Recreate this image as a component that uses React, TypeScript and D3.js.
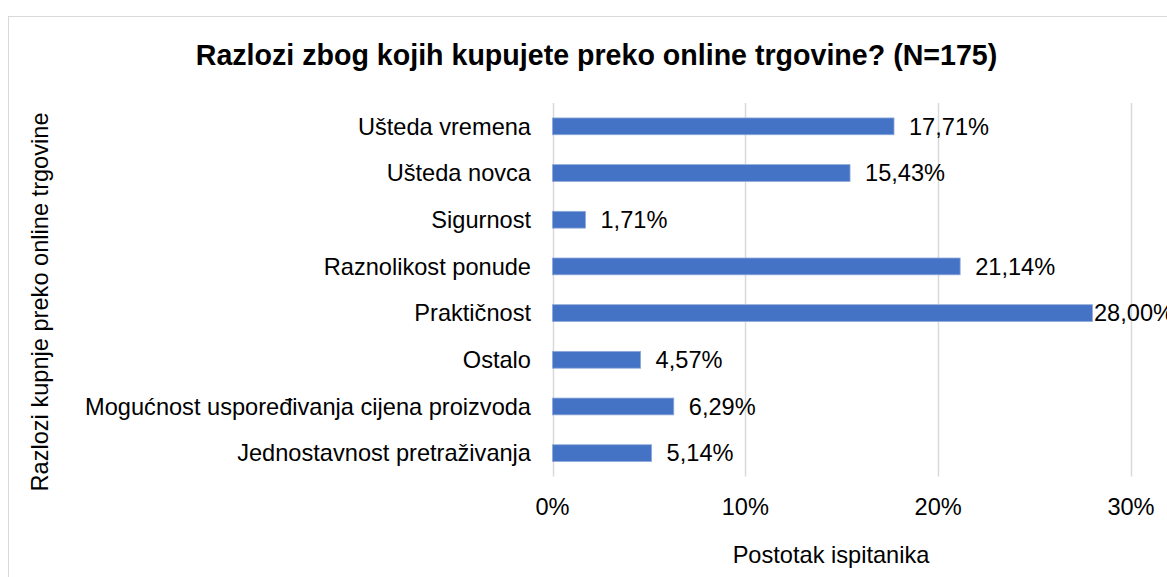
import React from "react";
import * as d3 from "d3";

const categories = [
  "Ušteda vremena",
  "Ušteda novca",
  "Sigurnost",
  "Raznolikost ponude",
  "Praktičnost",
  "Ostalo",
  "Mogućnost uspoređivanja cijena proizvoda",
  "Jednostavnost pretraživanja",
];
const values = [17.71, 15.43, 1.71, 21.14, 28.0, 4.57, 6.29, 5.14];
const ticks = [0, 10, 20, 30];

const title = "Razlozi zbog kojih kupujete preko online trgovine? (N=175)";
const xTitle = "Postotak ispitanika";
const yTitle = "Razlozi kupnje preko online trgovine";

const W = 1167;
const H = 577;
const font = "'Liberation Sans', Arial, sans-serif";
const fs = 23.6;

export default function App() {
  const x = d3.scaleLinear().domain([0, 30]).range([552.5, 1131]);
  const y = d3
    .scaleBand<string>()
    .domain(categories)
    .range([103, 476.5])
    .paddingInner(0.64)
    .paddingOuter(0.32);
  const fmt = (v: number) => v.toFixed(2).replace(".", ",") + "%";

  return (
    <svg
      width={W}
      height={H}
      style={{ position: "absolute", left: 0, top: 0, background: "#fff" }}
    >
      <rect x={8.5} y={16.5} width={1200} height={600} fill="#fff" stroke="#d9d9d9" strokeWidth={1} />
      <text
        x={596.5}
        y={65}
        textAnchor="middle"
        fontFamily={font}
        fontWeight="bold"
        fontSize={28.6}
        fill="#000"
      >
        {title}
      </text>
      {ticks.map((t) => (
        <line
          key={"g" + t}
          x1={Math.round(x(t)) + 0.5}
          x2={Math.round(x(t)) + 0.5}
          y1={103}
          y2={476.5}
          stroke="#d9d9d9"
          strokeWidth={1.5}
        />
      ))}
      {categories.map((c, i) => {
        const yy = y(c)!;
        const bw = y.bandwidth();
        const xe = x(values[i]);
        const lx = Math.min(xe + 15, x(30) - 37);
        return (
          <g key={c}>
            <rect
              x={x(0)}
              y={yy}
              width={xe - x(0)}
              height={bw}
              fill="#4472C4"
              stroke="#8faadc"
              strokeWidth={0.8}
            />
            <text
              x={531}
              y={yy + bw / 2}
              dy="0.35em"
              textAnchor="end"
              fontFamily={font}
              fontSize={fs}
              fill="#000"
            >
              {c}
            </text>
            <text
              x={lx}
              y={yy + bw / 2}
              dy="0.35em"
              fontFamily={font}
              fontSize={fs}
              fill="#000"
            >
              {fmt(values[i])}
            </text>
          </g>
        );
      })}
      {ticks.map((t) => (
        <text
          key={"t" + t}
          x={x(t)}
          y={507}
          dy="0.35em"
          textAnchor="middle"
          fontFamily={font}
          fontSize={fs}
          fill="#000"
        >
          {t + "%"}
        </text>
      ))}
      <text
        x={831}
        y={555}
        dy="0.35em"
        textAnchor="middle"
        fontFamily={font}
        fontSize={fs}
        fill="#000"
      >
        {xTitle}
      </text>
      <text
        transform={`translate(40,302) rotate(-90)`}
        dy="0.35em"
        textAnchor="middle"
        fontFamily={font}
        fontSize={fs}
        fill="#000"
      >
        {yTitle}
      </text>
    </svg>
  );
}
